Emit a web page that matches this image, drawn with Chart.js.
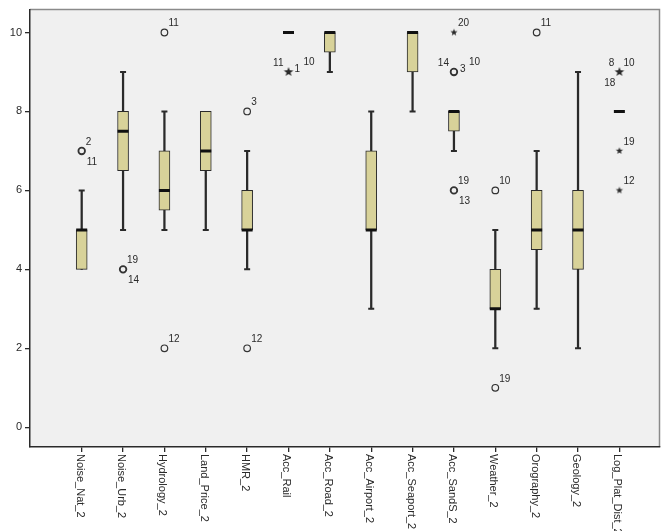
<!DOCTYPE html>
<html>
<head>
<meta charset="utf-8">
<script src="https://cdn.jsdelivr.net/npm/chart.js@4.4.1/dist/chart.umd.min.js"></script>
<style>
  html, body { margin: 0; padding: 0; background: #fff; }
  #wrap { width: 668px; height: 531px; }
</style>
</head>
<body>
<div id="wrap"><canvas id="boxChart" width="668" height="531"></canvas></div>
<script>
// categories and box statistics
const categories = ['Noise_Nat_2', 'Noise_Urb_2', 'Hydrology_2', 'Land_Price_2', 'HMR_2', 'Acc_Rail',
    'Acc_Road_2', 'Acc_Airport_2', 'Acc_Seaport_2', 'Acc_SandS_2', 'Weather_2', 'Orography_2',
    'Geology_2', 'Log_Plat_Dist_2'];
const whiskerLow  = [4, 5,   5,   5,   4, 10, 9,   3, 8,  7,   2, 3,   2, 8];
const q1          = [4, 6.5, 5.5, 6.5, 5, 10, 9.5, 5, 9,  7.5, 3, 4.5, 4, 8];
const median      = [5, 7.5, 6,   7,   5, 10, 10,  5, 10, 8,   3, 5,   5, 8];
const q3          = [5, 8,   7,   8,   6, 10, 10,  7, 10, 8,   4, 6,   6, 8];
const whiskerHigh = [6, 9,   8,   8,   7, 10, 10,  8, 10, 8,   5, 7,   9, 8];

// outliers: category index, value, marker kind, case labels
const outlierCat = [0, 1, 2, 2, 4, 4, 5, 9, 9, 9, 10, 10, 11, 13, 13, 13];
const outlierVal = [7, 4, 10, 2, 8, 2, 9, 10, 9, 6, 6, 1, 10, 9, 7, 6];
const outlierKind = ['o', 'o', 'o', 'o', 'o', 'o', '*', '*', 'o', 'o', 'o', 'o', 'o', '*', '*', '*'];
const outlierLabels = [['2', '11'], ['19', '14'], ['11'], ['12'], ['3'], ['12'], ['11', '1', '10'], ['20'],
    ['14', '3', '10'], ['19', '13'], ['10'], ['19'], ['11'], ['8', '10', '18'], ['19'], ['12']];
const yTicks = [0, 2, 4, 6, 8, 10];

// where each case label sits around its marker
const labelSpots = [['ur', 'lr'], ['ur', 'lr'], ['ur'], ['ur'], ['ur'], ['ur'], ['ul', 'r', 'ur2'], ['ur'],
    ['ul', 'r', 'ur2'], ['ur', 'lr'], ['ur'], ['ur'], ['ur'], ['ul', 'ur', 'll'], ['ur'], ['ur']];
const spotOffset = {
    ur: [4, -9, 'left'], lr: [5, 11, 'left'], r: [6, -3, 'left'], ur2: [15, -10, 'left'],
    ul: [-5, -9, 'right'], ll: [-4, 11, 'right']
};

const INK = '#2a2a2a';
const FONT = '"Liberation Sans", Arial, sans-serif';

function makeStar(r) {
    const c = document.createElement('canvas');
    c.width = c.height = Math.ceil(r * 2 + 2);
    const g = c.getContext('2d');
    g.translate(c.width / 2, c.height / 2);
    g.beginPath();
    for (let k = 0; k < 10; k++) {
        const rr = k % 2 === 0 ? r : r * 0.42;
        const a = -Math.PI / 2 + k * Math.PI / 5;
        g.lineTo(Math.cos(a) * rr, Math.sin(a) * rr);
    }
    g.closePath();
    g.fillStyle = INK;
    g.fill();
    return c;
}
const smallStar = makeStar(3.8);
const bigStar = makeStar(5);

const idx = categories.map((c, i) => i);
const caps = [];
idx.forEach(i => {
    if (whiskerLow[i] < q1[i]) caps.push({ x: i, y: whiskerLow[i] });
    if (whiskerHigh[i] > q3[i]) caps.push({ x: i, y: whiskerHigh[i] });
});

const outlierPts = outlierCat.map((c, k) => ({ x: c, y: outlierVal[k] }));

// plot background + frame
const frame = {
    id: 'frame',
    beforeDraw(chart) {
        const { ctx, chartArea: a } = chart;
        ctx.save();
        ctx.fillStyle = '#f0f0f0';
        ctx.fillRect(a.left, a.top, a.right - a.left, a.bottom - a.top);
        ctx.strokeStyle = '#8a8a8a';
        ctx.lineWidth = 1.5;
        ctx.beginPath();
        ctx.moveTo(a.left, a.top);
        ctx.lineTo(a.right, a.top);
        ctx.lineTo(a.right, a.bottom);
        ctx.stroke();
        ctx.restore();
    }
};

// rotated category names + outlier case numbers
const texts = {
    id: 'texts',
    afterDraw(chart) {
        const { ctx, scales: { x, y } } = chart;
        ctx.save();
        ctx.fillStyle = INK;
        ctx.font = '11px ' + FONT;
        ctx.textAlign = 'left';
        ctx.textBaseline = 'middle';
        categories.forEach((name, i) => {
            ctx.save();
            ctx.translate(x.getPixelForValue(i) - 2, y.bottom + 7);
            ctx.rotate(Math.PI / 2);
            ctx.fillText(name, 0, 0);
            ctx.restore();
        });
        ctx.font = '10px ' + FONT;
        outlierLabels.forEach((labs, k) => {
            const px = x.getPixelForValue(outlierCat[k]);
            const py = y.getPixelForValue(outlierVal[k]);
            labs.forEach((t, j) => {
                const o = spotOffset[labelSpots[k][j]];
                ctx.textAlign = o[2];
                ctx.fillText(t, px + o[0], py + o[1]);
            });
        });
        ctx.restore();
    }
};

new Chart(document.getElementById('boxChart'), {
    type: 'bar',
    data: {
        datasets: [
            {
                label: 'box',
                data: idx.map(i => ({ x: i, y: [q1[i], q3[i]] })),
                backgroundColor: '#d8d299',
                borderColor: INK,
                borderWidth: 1,
                borderSkipped: false,
                barThickness: 11,
                grouped: false,
                order: 2
            },
            {
                label: 'whisker',
                data: idx.map(i => ({ x: i, y: [whiskerLow[i], whiskerHigh[i]] })),
                backgroundColor: INK,
                borderWidth: 0,
                barThickness: 1.6,
                grouped: false,
                order: 3
            },
            {
                type: 'scatter',
                label: 'caps',
                data: caps,
                pointStyle: 'line',
                pointRadius: 3,
                borderColor: INK,
                borderWidth: 2,
                order: 1
            },
            {
                type: 'scatter',
                label: 'median',
                data: idx.map(i => ({ x: i, y: median[i] })),
                pointStyle: 'line',
                pointRadius: 5.5,
                borderColor: '#111',
                borderWidth: 3,
                order: 0
            },
            {
                type: 'scatter',
                label: 'outliers',
                data: outlierPts,
                pointStyle: outlierKind.map((kind, k) => kind === 'o' ? 'circle'
                    : (outlierLabels[k].length > 1 ? bigStar : smallStar)),
                pointRadius: 3.3,
                backgroundColor: 'rgba(0,0,0,0)',
                borderColor: '#333',
                borderWidth: outlierLabels.map(l => l.length > 1 ? 1.8 : 1.2),
                order: 0
            }
        ]
    },
    options: {
        responsive: false,
        animation: false,
        layout: { padding: { top: 7, right: 8, left: 0, bottom: 0 } },
        plugins: { legend: { display: false }, tooltip: { enabled: false } },
        scales: {
            x: {
                type: 'linear',
                offset: false,
                min: -1.25,
                max: 13.97,
                afterBuildTicks: s => { s.ticks = idx.map(v => ({ value: v })); },
                afterFit: s => { s.height = 84; },
                ticks: { callback: () => '' },
                grid: { offset: false, drawOnChartArea: false, drawTicks: true, tickLength: 5, color: INK, lineWidth: 1.3 },
                border: { color: INK, width: 1.5 }
            },
            y: {
                min: -0.5,
                max: 10.58,
                afterBuildTicks: s => { s.ticks = yTicks.map(v => ({ value: v })); },
                afterFit: s => { s.width = 30; },
                ticks: { color: INK, padding: 3, font: { family: FONT, size: 11 } },
                grid: { drawOnChartArea: false, drawTicks: true, tickLength: 5, color: INK, lineWidth: 1.3 },
                border: { color: INK, width: 1.5 }
            }
        }
    },
    plugins: [frame, texts]
});
</script>
</body>
</html>
